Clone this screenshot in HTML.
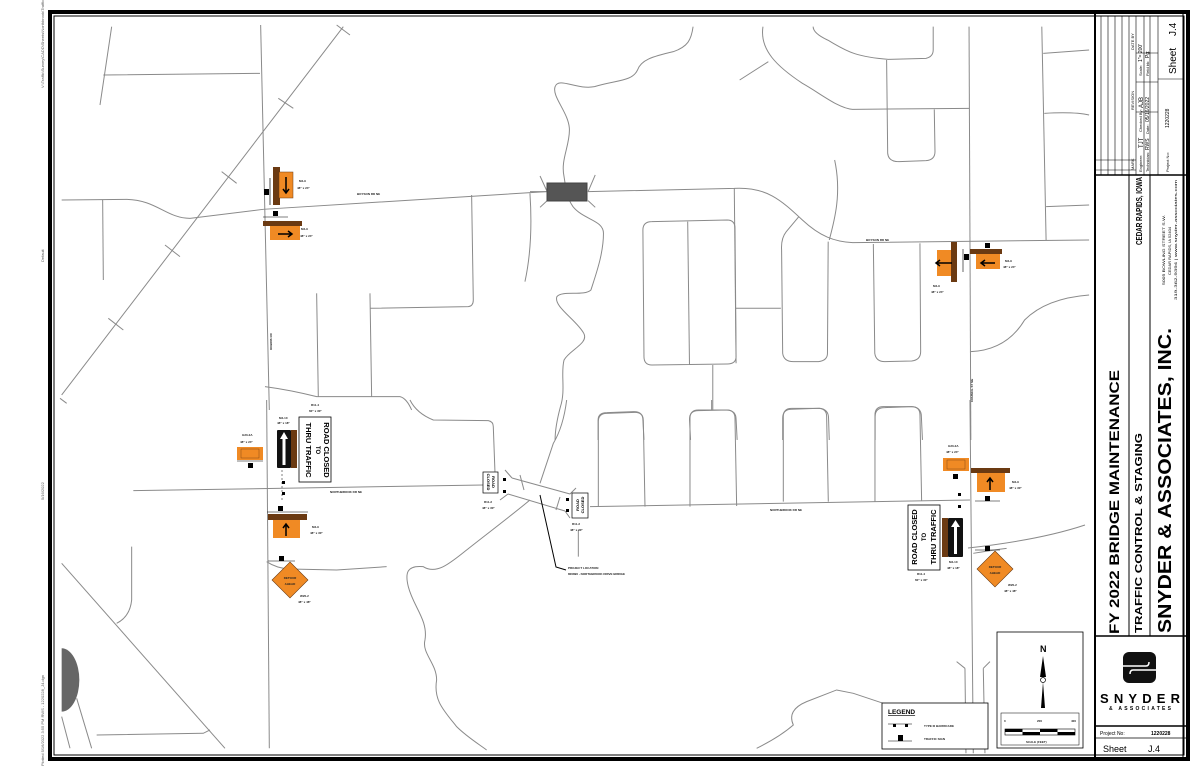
<!DOCTYPE html>
<html><head><meta charset="utf-8"><style>
html,body{margin:0;padding:0;background:#fff;}
svg{display:block;}
text{font-family:"Liberation Sans",sans-serif;}
.r{fill:none;stroke:#8a8a8a;stroke-width:1;}
.t{font-size:5px;font-weight:bold;fill:#111;}
.s{font-size:3px;font-weight:bold;fill:#222;}
</style></head><body>
<svg width="1200" height="776" viewBox="0 0 1200 776" xmlns="http://www.w3.org/2000/svg">
<rect width="1200" height="776" fill="#fff"/>
<!-- left margin text -->
<g font-size="4" fill="#555">
<text transform="translate(44,88) rotate(-90)">V:\Traffic\Survey\CADD\Sheets\Northbrook\TrafficControl.dwg</text>
<text transform="translate(44,262) rotate(-90)">Default</text>
<text transform="translate(44,500) rotate(-90)">5/16/2022</text>
<text transform="translate(44,766) rotate(-90)">Plotted 5/16/2022 3:55 PM RWS - 1220228_J4.dgn</text>
</g>
<!-- frame -->
<rect x="50" y="12" width="1138" height="747" fill="none" stroke="#000" stroke-width="4"/>
<rect x="54" y="16" width="1130" height="739" fill="none" stroke="#000" stroke-width="1"/>

<!-- ROADS zoom6 region -->
<g transform="translate(50,10) scale(0.3333)">
<path class="r" vector-effect="non-scaling-stroke" d="M632 45 L658 1200"/>
<path class="r" vector-effect="non-scaling-stroke" d="M880 50 L35 1155 M860 45 L900 75 M685 265 L730 295 M515 485 L560 520 M345 705 L390 740 M175 925 L220 960 M30 1165 L50 1180"/>
<path class="r" vector-effect="non-scaling-stroke" d="M185 50 L150 285 M160 195 L630 190"/>
<path class="r" vector-effect="non-scaling-stroke" d="M35 570 L230 568 C320 570 350 625 420 625 L640 598 L1490 545"/>
<path class="r" vector-effect="non-scaling-stroke" d="M158 570 L160 810"/>
<path class="r" vector-effect="non-scaling-stroke" d="M800 850 L805 1160 M960 850 L965 1160 M960 895 L1255 890 Q1270 888 1270 870 L1265 555"/>
<path class="r" vector-effect="non-scaling-stroke" d="M1440 550 Q1450 700 1425 815"/>
<path class="r" vector-effect="non-scaling-stroke" d="M645 1130 Q720 1140 800 1160 L1050 1160 Q1070 1165 1085 1200"/>
</g>
<!-- zoom5 region -->
<g transform="translate(530,20) scale(0.3584,0.3333)">
<path class="r" vector-effect="non-scaling-stroke" d="M455 20 C450 60 440 80 400 95 C340 110 310 120 300 150 C285 185 240 180 180 200 C130 210 80 170 70 200 C60 230 110 280 110 330 C110 380 85 420 95 470 C100 500 100 530 120 560 C150 600 205 600 205 640 C205 700 185 760 170 810 C150 830 90 810 75 830 C65 860 130 900 150 940 C165 970 110 990 95 1020 C85 1060 100 1110 85 1160 C75 1200 70 1230 70 1260"/>
<path class="r" vector-effect="non-scaling-stroke" d="M850 420 C870 520 850 600 835 660"/>
<path class="r" vector-effect="non-scaling-stroke" d="M650 20 C640 90 690 140 760 190 C810 220 860 265 900 268 L1225 265 M585 180 L665 125"/>
<path class="r" vector-effect="non-scaling-stroke" d="M790 20 Q790 40 830 60 C880 90 900 110 1000 118 L1105 115 Q1125 110 1125 90 L1125 20"/>
<path class="r" vector-effect="non-scaling-stroke" d="M995 120 L998 400 Q1000 425 1030 425 L1105 422 Q1130 420 1130 395 L1128 268"/>
<path class="r" vector-effect="non-scaling-stroke" d="M1428 20 L1440 660 M1432 100 L1560 90 M1435 280 Q1520 275 1560 285 M1440 560 L1560 555"/>
<path class="r" vector-effect="non-scaling-stroke" d="M1225 20 L1230 1260"/>
<path class="r" vector-effect="non-scaling-stroke" d="M0 515 L48 515 M162 515 L570 505 C660 500 700 540 760 600 C810 650 850 665 900 668 L1560 660"/>
<path class="r" vector-effect="non-scaling-stroke" d="M570 505 L575 1030"/>
<path class="r" vector-effect="non-scaling-stroke" d="M340 605 L550 600 Q572 600 572 625 L575 1010 Q575 1032 550 1032 L340 1035 Q318 1035 318 1010 L315 630 Q315 605 340 605 M440 605 L445 1035 M575 865 L700 865 M510 1035 L510 1170"/>
<path class="r" vector-effect="non-scaling-stroke" d="M750 590 L715 635 Q700 655 702 690 L705 1000 Q708 1025 735 1025 L805 1025 Q830 1022 830 1000 L832 665"/>
<path class="r" vector-effect="non-scaling-stroke" d="M958 672 L962 1000 Q965 1025 990 1025 L1065 1023 Q1090 1020 1090 995 L1088 670"/>
<path class="r" vector-effect="non-scaling-stroke" d="M190 1260 L190 1200 Q190 1178 215 1178 L290 1175 Q315 1175 315 1200 L318 1260 M448 1260 L445 1198 Q445 1172 470 1172 L550 1170 Q575 1172 575 1198 L578 1260 M705 1260 L705 1195 Q705 1168 730 1168 L808 1165 Q833 1168 833 1195 L835 1260 M963 1260 L963 1190 Q963 1163 990 1163 L1065 1160 Q1092 1162 1092 1190 L1095 1260"/>
<path class="r" vector-effect="non-scaling-stroke" d="M1230 995 Q1330 990 1380 900 Q1440 835 1560 825"/>
<path class="r" vector-effect="non-scaling-stroke" d="M48 515 L28 468 M162 515 L182 465 M48 542 L28 562 M162 542 L182 562"/>
</g>
<rect x="547" y="183" width="40" height="18" fill="#555" stroke="#444"/>
<!-- zoom7 region -->
<g transform="translate(50,400) scale(0.3333)">
<path class="r" vector-effect="non-scaling-stroke" d="M650 0 L658 1045"/>
<path class="r" vector-effect="non-scaling-stroke" d="M250 272 L1300 255"/>
<path class="r" vector-effect="non-scaling-stroke" d="M1080 0 Q1100 40 1150 60 L1315 62 Q1330 65 1330 80 L1335 215"/>
<path class="r" vector-effect="non-scaling-stroke" d="M245 440 L245 600 Q240 650 200 670"/>
<path class="r" vector-effect="non-scaling-stroke" d="M35 490 L525 1045"/>
<path class="r" vector-effect="non-scaling-stroke" d="M35 950 L60 1045 M80 895 L125 1045 M140 1005 L460 1000 L480 990"/>
<path class="r" vector-effect="non-scaling-stroke" d="M650 485 Q680 505 720 507 L860 510 L1010 500"/>
<path class="r" vector-effect="non-scaling-stroke" d="M1440 300 C1380 350 1300 410 1250 450 C1200 490 1160 525 1120 500 C1070 495 1065 520 1075 560 C1090 620 1135 660 1125 720 C1115 760 1160 790 1160 840 C1150 900 1180 930 1220 980 C1250 1010 1290 1035 1310 1050"/>
<path d="M35 745 A53 95 0 0 1 35 935 Z" fill="#666"/>
</g>
<!-- zoom8 region -->
<g transform="translate(540,400) scale(0.3333)">
<path class="r" vector-effect="non-scaling-stroke" d="M150 320 L1290 300"/>
<path class="r" vector-effect="non-scaling-stroke" d="M175 320 L175 65 Q175 40 200 40 L285 37 Q310 37 310 62 L315 320 M450 320 L450 55 Q450 30 475 30 L560 30 Q585 30 585 55 L590 318 M515 0 L515 30 M730 305 L730 50 Q730 25 755 25 L835 25 Q860 25 860 50 L865 305 M1005 305 L1005 45 Q1005 20 1030 20 L1115 20 Q1140 20 1140 45 L1145 303"/>
<path class="r" vector-effect="non-scaling-stroke" d="M1290 0 L1300 1060 M1275 805 L1278 1060 M1330 805 L1335 1060 M1275 805 L1250 785 M1330 805 L1350 785"/>
<path class="r" vector-effect="non-scaling-stroke" d="M80 0 Q70 80 40 130 Q20 190 0 250"/>
<path class="r" vector-effect="non-scaling-stroke" d="M115 390 L115 470"/>
<path class="r" vector-effect="non-scaling-stroke" d="M650 1045 Q720 1010 760 975 Q740 930 800 905 L890 870 L940 880 L1030 910"/>
<path class="r" vector-effect="non-scaling-stroke" d="M1300 460 Q1360 450 1400 445"/>
</g>
<path class="r" d="M968 548 Q1040 540 1085 525"/>
<!-- bridge -->
<g class="r">
<path d="M512 478 L570 494 M508 494 L565 511"/>
<path d="M512 478 L505 470 M508 494 L500 500 M570 494 L576 488 M565 511 L570 518"/>
<path d="M520 475 L524 490 M560 497 L556 510" />
</g>
<path d="M540 495 L556 567 L566 570" fill="none" stroke="#000" stroke-width="1"/>
<text x="568" y="569" class="s" font-size="4.5">PROJECT LOCATION</text>
<text x="568" y="575" class="s" font-size="4.5">800890 - NORTHBROOK DRIVE BRIDGE</text>

<!-- road labels -->
<text x="357" y="195" class="s" font-size="4.5">BOYSON RD NE</text>
<text x="866" y="241" class="s" font-size="4.5">BOYSON RD NE</text>
<text x="330" y="493" class="s" font-size="4.5">NORTHBROOK DR NE</text>
<text x="770" y="511" class="s" font-size="4.5">NORTHBROOK DR NE</text>
<text transform="translate(272,350) rotate(-90)" class="s" font-size="4.5">ROBINS RD</text>
<text transform="translate(973,402) rotate(-90)" class="s" font-size="4.5">COUNCIL ST NE</text>

<!-- LEFT SIGNS -->
<rect x="264" y="189" width="5" height="6" fill="#000"/>
<line x1="270" y1="178" x2="270" y2="205" stroke="#000" stroke-width="0.7"/>
<rect x="273" y="167" width="7" height="38" fill="#6b3a12"/>
<rect x="279" y="172" width="14" height="26" fill="#f08a24" stroke="#6b3a12" stroke-width="0.5"/>
<path d="M286 177 L286 192 M283 189 L286 193 L289 189" stroke="#000" stroke-width="1.5" fill="none"/>
<text x="299" y="182" class="s">M4-9</text><text x="297" y="189" class="s">48" x 24"</text>
<rect x="273" y="211" width="5" height="5" fill="#000"/>
<line x1="263" y1="217" x2="288" y2="217" stroke="#000" stroke-width="0.6"/>
<rect x="263" y="221" width="39" height="5" fill="#6b3a12"/>
<rect x="270" y="226" width="30" height="14" fill="#f08a24"/>
<path d="M278 234 L291 234 M288 231 L292 234 L288 237" stroke="#000" stroke-width="1.5" fill="none"/>
<text x="301" y="230" class="s">M4-9</text><text x="300" y="237" class="s">48" x 24"</text>

<text x="242" y="436" class="s">G20-2A</text><text x="240" y="443" class="s">48" x 24"</text>
<rect x="237" y="447" width="26" height="13" fill="#f08a24"/>
<rect x="241" y="449" width="18" height="9" fill="none" stroke="#6b3a12" stroke-width="0.4"/>
<line x1="237" y1="461" x2="263" y2="461" stroke="#000" stroke-width="0.6"/>
<rect x="248" y="463" width="5" height="5" fill="#000"/>

<text x="279" y="419" class="s">M4-10</text><text x="277" y="424" class="s">48" x 18"</text>
<rect x="277" y="430" width="14" height="38" fill="#111" rx="1"/>
<path d="M284 432 L280 439 L282.5 439 L282.5 465 L285.5 465 L285.5 439 L288 439 Z" fill="#fff"/>
<rect x="291" y="430" width="6" height="38" fill="#6b3a12"/>
<text x="311" y="406" class="s">R11-4</text><text x="309" y="412" class="s">60" x 30"</text>
<rect x="299" y="417" width="32" height="65" fill="#fff" stroke="#000" stroke-width="0.8"/>
<g font-family="Liberation Mono" font-weight="bold" fill="#000">
<text transform="translate(300,450) rotate(90)" font-size="7.5" text-anchor="middle" x="0" y="-24">ROAD CLOSED</text>
<text transform="translate(300,450) rotate(90)" font-size="6" text-anchor="middle" x="0" y="-16">TO</text>
<text transform="translate(300,450) rotate(90)" font-size="7.5" text-anchor="middle" x="0" y="-6">THRU TRAFFIC</text>
</g>
<line x1="282" y1="470" x2="282" y2="500" stroke="#000" stroke-width="0.5" stroke-dasharray="2,2"/>
<rect x="282" y="481" width="3" height="3" fill="#000"/><rect x="282" y="492" width="3" height="3" fill="#000"/>

<rect x="278" y="506" width="5" height="5" fill="#000"/>
<line x1="267" y1="512" x2="308" y2="512" stroke="#000" stroke-width="0.6"/>
<rect x="268" y="514" width="39" height="6" fill="#6b3a12"/>
<rect x="273" y="520" width="27" height="18" fill="#f08a24"/>
<path d="M286 536 L286 525 M283 528 L286 524 L289 528" stroke="#000" stroke-width="1.5" fill="none"/>
<text x="312" y="528" class="s">M4-9</text><text x="310" y="534" class="s">48" x 30"</text>

<rect x="279" y="556" width="5" height="5" fill="#000"/>
<line x1="268" y1="561" x2="295" y2="561" stroke="#000" stroke-width="0.6"/>
<path d="M290 562 L308 580 L290 598 L272 580 Z" fill="#f08a24" stroke="#6b3a12" stroke-width="0.6"/>
<text x="290" y="579" class="s" font-size="4.5" text-anchor="middle">DETOUR</text>
<text x="290" y="585" class="s" font-size="4.5" text-anchor="middle">AHEAD</text>
<text x="300" y="597" class="s">W20-2</text><text x="298" y="603" class="s">48" x 48"</text>

<!-- R11-2 -->
<rect x="483" y="472" width="15" height="21" fill="#fff" stroke="#000" stroke-width="0.7"/>
<text transform="translate(491,482) rotate(90)" font-size="4" font-weight="bold" text-anchor="middle" y="-1">ROAD</text>
<text transform="translate(491,482) rotate(90)" font-size="4" font-weight="bold" text-anchor="middle" y="4">CLOSED</text>
<rect x="503" y="478" width="3" height="3" fill="#000"/><rect x="503" y="490" width="3" height="3" fill="#000"/>
<text x="484" y="503" class="s">R11-2</text><text x="482" y="509" class="s">48" x 30"</text>
<rect x="572" y="493" width="16" height="25" fill="#fff" stroke="#000" stroke-width="0.7"/>
<text transform="translate(580,505) rotate(-90)" font-size="4" font-weight="bold" text-anchor="middle" y="-1">ROAD</text>
<text transform="translate(580,505) rotate(-90)" font-size="4" font-weight="bold" text-anchor="middle" y="4">CLOSED</text>
<rect x="566" y="498" width="3" height="3" fill="#000"/><rect x="566" y="509" width="3" height="3" fill="#000"/>
<text x="572" y="525" class="s">R11-2</text><text x="570" y="531" class="s">48" x 30"</text>

<!-- RIGHT TOP SIGNS -->
<rect x="951" y="242" width="6" height="40" fill="#6b3a12"/>
<rect x="937" y="250" width="14" height="26" fill="#f08a24"/>
<path d="M944 271 L944 256 M941 259 L944 255 L947 259" stroke="#000" stroke-width="1.5" fill="none" transform="rotate(-90 944 263)"/>
<line x1="963" y1="249" x2="963" y2="272" stroke="#000" stroke-width="0.6"/>
<rect x="964" y="254" width="5" height="6" fill="#000"/>
<text x="933" y="287" class="s">M4-9</text><text x="931" y="293" class="s">48" x 24"</text>
<rect x="985" y="243" width="5" height="5" fill="#000"/>
<rect x="970" y="249" width="32" height="5" fill="#6b3a12"/>
<rect x="976" y="254" width="24" height="15" fill="#f08a24"/>
<path d="M995 263 L982 263 M985 260 L981 263 L985 266" stroke="#000" stroke-width="1.5" fill="none"/>
<text x="1005" y="262" class="s">M4-9</text><text x="1003" y="268" class="s">48" x 24"</text>

<!-- RIGHT MIDDLE SIGNS -->
<text x="948" y="447" class="s">G20-2A</text><text x="946" y="453" class="s">48" x 24"</text>
<rect x="943" y="458" width="26" height="13" fill="#f08a24"/>
<rect x="947" y="460" width="18" height="9" fill="none" stroke="#6b3a12" stroke-width="0.4"/>
<rect x="953" y="474" width="5" height="5" fill="#000"/>
<rect x="971" y="468" width="39" height="5" fill="#6b3a12"/>
<rect x="977" y="473" width="28" height="19" fill="#f08a24"/>
<path d="M990 490 L990 479 M987 482 L990 478 L993 482" stroke="#000" stroke-width="1.5" fill="none"/>
<text x="1012" y="483" class="s">M4-9</text><text x="1009" y="489" class="s">48" x 30"</text>
<rect x="985" y="496" width="5" height="5" fill="#000"/>
<line x1="975" y1="501" x2="1000" y2="501" stroke="#000" stroke-width="0.6"/>
<rect x="958" y="493" width="3" height="3" fill="#000"/><rect x="958" y="505" width="3" height="3" fill="#000"/>
<rect x="908" y="505" width="32" height="65" fill="#fff" stroke="#000" stroke-width="0.8"/>
<g font-family="Liberation Mono" font-weight="bold" fill="#000">
<text transform="translate(924,537) rotate(-90)" font-size="7.5" text-anchor="middle" y="-7">ROAD CLOSED</text>
<text transform="translate(924,537) rotate(-90)" font-size="6" text-anchor="middle" y="2">TO</text>
<text transform="translate(924,537) rotate(-90)" font-size="7.5" text-anchor="middle" y="12">THRU TRAFFIC</text>
</g>
<text x="917" y="575" class="s">R11-4</text><text x="915" y="581" class="s">60" x 30"</text>
<rect x="942" y="518" width="6" height="39" fill="#6b3a12"/>
<rect x="948" y="518" width="15" height="39" fill="#111" rx="1"/>
<path d="M955.5 520 L951 527 L954 527 L954 554 L957 554 L957 527 L960 527 Z" fill="#fff"/>
<text x="949" y="563" class="s">M4-10</text><text x="947" y="569" class="s">48" x 18"</text>
<rect x="985" y="546" width="5" height="5" fill="#000"/>
<line x1="975" y1="550" x2="1000" y2="550" stroke="#000" stroke-width="0.6"/>
<path d="M995 551 L1013 569 L995 587 L977 569 Z" fill="#f08a24" stroke="#6b3a12" stroke-width="0.6"/>
<text x="995" y="568" class="s" font-size="4.5" text-anchor="middle">DETOUR</text>
<text x="995" y="574" class="s" font-size="4.5" text-anchor="middle">AHEAD</text>
<text x="1008" y="586" class="s">W20-2</text><text x="1004" y="592" class="s">48" x 48"</text>

<!-- NORTH ARROW / SCALE -->
<rect x="997" y="632" width="86" height="116" fill="#fff" stroke="#000" stroke-width="0.8"/>
<text x="1040" y="652" font-size="9" font-weight="bold">N</text>
<path d="M1043 656 L1040 677 L1046 677 Z" fill="#000"/>
<path d="M1043 682 L1041 708 L1045 708 Z" fill="#000"/>
<circle cx="1043" cy="680" r="2.5" fill="#fff" stroke="#000" stroke-width="0.7"/>
<rect x="1001" y="713" width="78" height="32" fill="none" stroke="#000" stroke-width="0.5"/>
<text x="1004" y="722" class="s" font-size="4.5">0</text>
<text x="1037" y="722" class="s" font-size="4.5">200</text>
<text x="1071" y="722" class="s" font-size="4.5">400</text>
<rect x="1005" y="729" width="70" height="6" fill="#fff" stroke="#000" stroke-width="0.6"/>
<rect x="1005" y="729" width="17.5" height="3" fill="#000"/><rect x="1040" y="729" width="17.5" height="3" fill="#000"/>
<rect x="1022.5" y="732" width="17.5" height="3" fill="#000"/><rect x="1057.5" y="732" width="17.5" height="3" fill="#000"/>
<text x="1026" y="743" class="s" font-size="4.5">SCALE (FEET)</text>
<!-- LEGEND -->
<rect x="882" y="703" width="106" height="46" fill="#fff" stroke="#000" stroke-width="0.8"/>
<text x="888" y="714" font-size="6.5" font-weight="bold" text-decoration="underline">LEGEND</text>
<line x1="888" y1="724" x2="912" y2="724" stroke="#000" stroke-width="0.6"/>
<rect x="893" y="724" width="3" height="3" fill="#000"/><rect x="905" y="724" width="3" height="3" fill="#000"/>
<text x="924" y="727" class="s" font-size="4.8">TYPE III BARRICADE</text>
<line x1="888" y1="741" x2="912" y2="741" stroke="#000" stroke-width="0.6"/>
<rect x="898" y="735" width="5" height="6" fill="#000"/>
<text x="924" y="740" class="s" font-size="4.8">TRAFFIC SIGN</text>

<!-- TITLE BLOCK -->
<g fill="none" stroke="#000">
<line x1="1095" y1="14" x2="1095" y2="758" stroke-width="2"/>
<line x1="1095" y1="175" x2="1186" y2="175" stroke-width="1.5"/>
<line x1="1129" y1="175" x2="1129" y2="636" stroke-width="1"/>
<line x1="1150" y1="175" x2="1150" y2="636" stroke-width="1"/>
<line x1="1183" y1="14" x2="1183" y2="758" stroke-width="1"/>
<line x1="1095" y1="636" x2="1186" y2="636" stroke-width="1.5"/>
<line x1="1095" y1="726" x2="1186" y2="726" stroke-width="1.5"/>
<line x1="1095" y1="738" x2="1186" y2="738" stroke-width="0.8"/>
<g stroke-width="0.6">
<line x1="1101" y1="16" x2="1101" y2="175"/><line x1="1108" y1="16" x2="1108" y2="175"/>
<line x1="1115" y1="16" x2="1115" y2="175"/><line x1="1122" y1="16" x2="1122" y2="175"/>
<line x1="1129" y1="16" x2="1129" y2="175"/><line x1="1136" y1="16" x2="1136" y2="175"/>
<line x1="1144" y1="16" x2="1144" y2="175"/><line x1="1150" y1="16" x2="1150" y2="175"/>
<line x1="1158" y1="16" x2="1158" y2="175"/>
<line x1="1095" y1="160" x2="1136" y2="160"/><line x1="1095" y1="170" x2="1136" y2="170"/>
<line x1="1136" y1="53" x2="1158" y2="53"/><line x1="1136" y1="82" x2="1158" y2="82"/><line x1="1136" y1="112" x2="1158" y2="112"/>
<line x1="1158" y1="79" x2="1183" y2="79"/>
</g>
</g>
<g font-size="4" fill="#000">
<text transform="translate(1134,170) rotate(-90)">MARK</text>
<text transform="translate(1134,110) rotate(-90)">REVISION</text>
<text transform="translate(1134,50) rotate(-90)">DATE  BY</text>
<text transform="translate(1142,172) rotate(-90)">Engineer:</text>
<text transform="translate(1143,148) rotate(-90)" font-size="6">TJT</text>
<text transform="translate(1142,132) rotate(-90)">Checked By:</text>
<text transform="translate(1143,108) rotate(-90)" font-size="6">AJB</text>
<text transform="translate(1142,76) rotate(-90)">Scale:</text>
<text transform="translate(1142,62) rotate(-90)" font-size="5">1"= 200'</text>
<text transform="translate(1149,172) rotate(-90)">Technician:</text>
<text transform="translate(1149,150) rotate(-90)" font-size="5">RWS</text>
<text transform="translate(1149,134) rotate(-90)">Date:</text>
<text transform="translate(1149,122) rotate(-90)" font-size="5">05/16/2022</text>
<text transform="translate(1149,76) rotate(-90)">Field bk:</text>
<text transform="translate(1149,58) rotate(-90)" font-size="5">Pg:</text>
<text transform="translate(1169,172) rotate(-90)">Project No:</text>
<text transform="translate(1169,128) rotate(-90)" font-size="5">1220228</text>
<text transform="translate(1176,74) rotate(-90)" font-size="10">Sheet</text>
<text transform="translate(1176,36) rotate(-90)" font-size="10">J.4</text>
</g>
<text transform="translate(1119,634) rotate(-90)" font-size="14" font-weight="bold" textLength="264" lengthAdjust="spacingAndGlyphs">FY 2022 BRIDGE MAINTENANCE</text>
<text transform="translate(1142,633) rotate(-90)" font-size="10" font-weight="bold" textLength="200" lengthAdjust="spacingAndGlyphs">TRAFFIC CONTROL &amp; STAGING</text>
<text transform="translate(1142,245) rotate(-90)" font-size="8" font-weight="bold" textLength="68" lengthAdjust="spacingAndGlyphs">CEDAR RAPIDS, IOWA</text>
<text transform="translate(1171,633) rotate(-90)" font-size="18" font-weight="bold" textLength="305" lengthAdjust="spacingAndGlyphs">SNYDER &amp; ASSOCIATES, INC.</text>
<text transform="translate(1171,300) rotate(-90)" font-size="4" textLength="70" lengthAdjust="spacingAndGlyphs" x="15" y="-6">5005 BOWLING STREET S.W.</text>
<text transform="translate(1171,300) rotate(-90)" font-size="4" x="25" y="0">CEDAR RAPIDS, IA 52404</text>
<text transform="translate(1171,300) rotate(-90)" font-size="4" x="0" y="6" textLength="120" lengthAdjust="spacingAndGlyphs">319-362-9394 | www.snyder-associates.com</text>
<rect x="1123" y="652" width="33" height="31" rx="6" fill="#111"/>
<path d="M1123 666 L1146 666 Q1149 666 1149 662 M1156 670 L1133 670 Q1130 670 1130 674" stroke="#fff" stroke-width="1.5" fill="none"/>
<text x="1140" y="703" font-size="13" font-weight="bold" text-anchor="middle" textLength="80" lengthAdjust="spacing">SNYDER</text>
<text x="1140" y="710" font-size="5" font-weight="bold" text-anchor="middle" textLength="62" lengthAdjust="spacing">&amp; ASSOCIATES</text>
<text x="1100" y="735" font-size="5">Project No:</text>
<text x="1151" y="735" font-size="5" font-weight="bold">1220228</text>
<text x="1103" y="752" font-size="9">Sheet</text>
<text x="1148" y="752" font-size="9">J.4</text>
</svg>
</body></html>
